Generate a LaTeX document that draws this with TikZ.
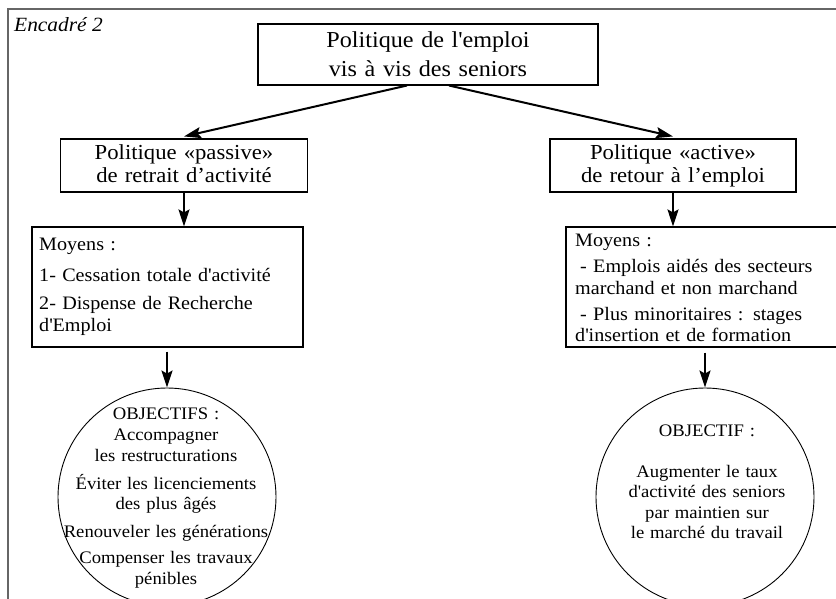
\documentclass[tikz,border=0pt]{standalone}
\usepackage{fontspec}
\setmainfont{Liberation Serif}[FakeStretch=1.06]
\usetikzlibrary{arrows.meta,calc}
\newcommand{\sq}{\textquotesingle}
\begin{document}
\begin{tikzpicture}[x=1pt,y=-1pt,
  box/.style={draw, line width=1.1pt, inner sep=0pt},
  circ/.style={draw, circle, line width=0.9pt, minimum size=218pt, inner sep=0pt},
  arr/.style={line width=2pt, -{Stealth[length=17pt,width=11pt,inset=3pt]}},
  txtc/.style={inner sep=0pt, anchor=base, align=center},
  txtl/.style={inner sep=0pt, anchor=base west, align=left},
  frame/.style={line width=1.9pt, black!60}]
\useasboundingbox (0,0) rectangle (836,599);
\clip (0,0) rectangle (836,599);
% frame
\coordinate (fbl) at (8,605);
\coordinate (ftl) at (8,9);
\coordinate (ftr) at (840,9);
\draw[frame] (fbl) -- (ftl) -- (ftr);
\node[txtl, font=\fontsize{20.2}{22}\selectfont\itshape] (enc) at (14,31.5) {Encadré 2};
% boxes
\node[box, minimum width=340pt, minimum height=61pt] (top) at (428,54.5) {};
\node[box, minimum width=247pt, minimum height=53pt] (lmid) at (184,165.5) {};
\node[box, minimum width=246pt, minimum height=53pt] (rmid) at (673,165.5) {};
\node[box, minimum width=271pt, minimum height=120pt] (lmoy) at (167.5,287) {};
\node[box, minimum width=278pt, minimum height=120pt] (rmoy) at (705,287) {};
\node[circ] (lcirc) at (167,497) {};
\node[circ] (rcirc) at (705,497) {};
% texts
\node[txtc, text width=320pt, font=\fontsize{22.8}{28.5}\selectfont] (toptxt) at (428,48)
  {Politique de l\sq emploi\\vis à vis des seniors};
\node[txtc, text width=240pt, font=\fontsize{21.4}{23}\selectfont] (lmidtxt) at (184,160)
  {Politique «passive»\\de retrait d’activité};
\node[txtc, text width=240pt, font=\fontsize{21.4}{23}\selectfont] (rmidtxt) at (673,160)
  {Politique «active»\\de retour à l’emploi};
\node[txtl, text width=262pt, font=\fontsize{19}{22}\selectfont] (lmoytxt) at (39,251)
  {Moyens :\\[9pt]1- Cessation totale d\sq activité\\[6pt]2- Dispense de Recherche\\d\sq Emploi};
\node[txtl, text width=262pt, font=\fontsize{19}{21.5}\selectfont] (rmoytxt) at (575,247)
  {Moyens :\\[4.5pt]\hspace*{5pt}- Emplois aidés des secteurs\\marchand et non marchand\\[4.5pt]\hspace*{5pt}- Plus minoritaires : stages\\d\sq insertion et de formation};
\node[txtc, text width=230pt, font=\fontsize{17.6}{20.5}\selectfont] (lcirctxt) at (166,419)
  {OBJECTIFS :\\[1pt]Accompagner\\les restructurations\\[7.5pt]Éviter les licenciements\\des plus âgés\\[7.5pt]Renouveler les générations\\[5.5pt]Compenser les travaux\\pénibles};
\node[txtc, text width=230pt, font=\fontsize{17.6}{20.5}\selectfont] (rcirctxt) at (707,436)
  {OBJECTIF :\\[20.5pt]Augmenter le taux\\d\sq activité des seniors\\par maintien sur\\le marché du travail};
% arrows
\draw[arr] ($(top.south west)!0.438!(top.south east)$) -- ([yshift=2pt]lmid.north);
\draw[arr] ($(top.south west)!0.562!(top.south east)$) -- ([yshift=2pt]rmid.north);
\draw[arr] (lmid.south) -- (lmid.south |- lmoy.north);
\draw[arr] (rmid.south) -- (rmid.south |- rmoy.north);
\draw[arr] ($(lmoy.south -| lcirc.north)+(0,4)$) -- (lcirc.north);
\draw[arr] ($(rmoy.south -| rcirc.north)+(0,5)$) -- (rcirc.north);
\end{tikzpicture}
\end{document}
